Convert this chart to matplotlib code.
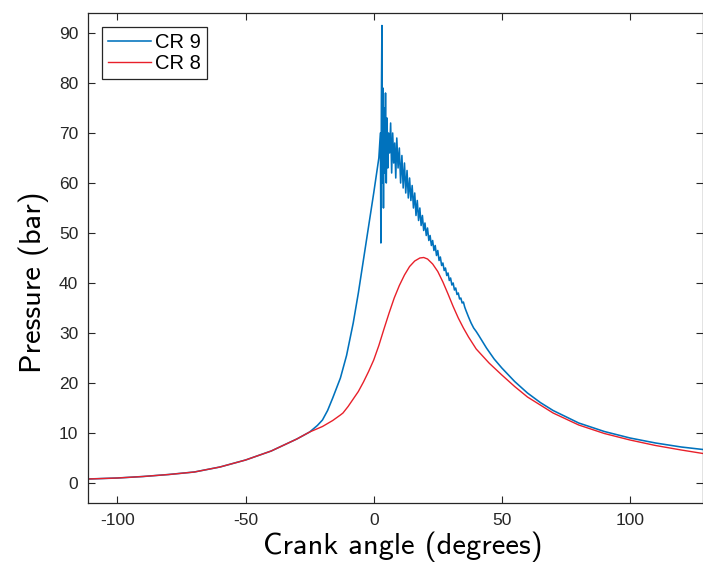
import matplotlib
matplotlib.use("Agg")
import matplotlib.pyplot as plt

# crank angle (deg) / pressure (bar)
cr9_angle = [-111.5, -100, -90, -80, -70, -60, -50, -40, -30, -25, -22, -20, -18, -16,
             -13, -10.6, -8, -6, -3, 0, 2, 2.6,
             2.8, 3.0, 3.2, 3.4, 3.6, 3.8, 4.0, 4.3, 4.6, 4.9, 5.2, 5.5, 5.8, 6.2, 6.6,
             7.0, 7.4, 7.8, 8.2, 8.6, 9.0, 9.5, 10, 10.5, 11, 11.5, 12, 12.5, 13, 13.5,
             14, 14.5, 15, 15.5, 16, 16.5, 17, 17.5, 18, 18.5, 19, 19.5, 20, 20.5, 21,
             21.5, 22, 22.5, 23, 23.5, 24, 24.5, 25, 25.5, 26, 26.5, 27, 27.5, 28, 28.5,
             29, 29.5, 30, 30.5, 31, 31.5, 32, 32.5, 33, 33.5, 34, 34.5, 35, 35.5, 36,
             37, 38, 39, 40,
             41, 44, 47, 50, 55, 60, 65, 70, 80, 90, 100, 110, 120, 128.5]
cr9_pressure = [0.8, 1.0, 1.3, 1.7, 2.2, 3.2, 4.6, 6.4, 8.8, 10.2, 11.5, 12.6, 14.5, 17.0,
                21.0, 25.5, 32.0, 38.0, 48.0, 58.0, 65.0, 70.0,
                48.0, 77.0, 91.5, 60.0, 79.0, 55.0, 75.0, 62.0, 78.0, 60.0, 73.0, 63.0, 70.0, 66.0, 72.0,
                62.0, 70.0, 64.0, 68.0, 61.0, 69.0, 63.0, 67.0, 60.0, 65.5, 59.0, 64.0, 58.0, 62.5, 57.0,
                61.0, 56.5, 59.5, 55.0, 58.0, 53.5, 56.5, 52.5, 55.0, 51.5, 53.5, 50.5, 52.0, 49.5, 51.0,
                48.5, 49.5, 47.5, 48.5, 46.5, 47.5, 45.5, 46.5, 44.5, 45.2, 43.5, 44.0, 42.5, 43.0, 41.5,
                42.0, 40.5, 41.0, 39.6, 40.0, 38.6, 39.0, 37.7, 38.0, 36.8, 37.0, 36.0, 36.2, 35.2, 34.5,
                33.2, 32.0, 31.0, 30.3,
                29.5, 27.0, 24.8, 23.0, 20.3, 18.0, 16.1, 14.5, 12.0, 10.3, 9.0, 8.0, 7.2, 6.7]

cr8_angle = [-111.5, -100, -90, -80, -70, -60, -50, -40, -30, -25, -20, -16, -13, -12, -10,
             -8, -6, -4, -2, 0, 2, 4, 6, 8, 10, 12, 14, 16, 18, 19.5, 21, 23, 25, 27, 29,
             31, 33, 35, 37, 40, 45, 50, 55, 60, 70, 80, 90, 100, 110, 120, 128.5]
cr8_pressure = [0.8, 1.0, 1.3, 1.7, 2.2, 3.2, 4.6, 6.4, 8.8, 10.2, 11.3, 12.5, 13.6, 14.0, 15.3,
                16.8, 18.3, 20.2, 22.3, 24.6, 27.5, 30.8, 34.0, 37.0, 39.5, 41.6, 43.3, 44.4, 45.0, 45.1,
                44.8, 43.8, 42.3, 40.2, 37.8, 35.3, 33.0, 31.0, 29.2, 26.8, 24.0, 21.6, 19.3, 17.2,
                14.0, 11.6, 9.9, 8.6, 7.5, 6.6, 5.9]

x_ticks = [-100, -50, 0, 50, 100]
y_ticks = [0, 10, 20, 30, 40, 50, 60, 70, 80, 90]

plt.rcParams["axes.unicode_minus"] = False
plt.rcParams["font.family"] = ["Liberation Sans", "DejaVu Sans"]

fig = plt.figure(figsize=(7.03, 5.77), dpi=100)
ax = fig.add_axes([88 / 703, 74 / 577, 615 / 703, 490 / 577])

ax.plot(cr9_angle, cr9_pressure, color="#0072BD", lw=1.15, label="CR 9")
ax.plot(cr8_angle, cr8_pressure, color="#E8202A", lw=1.0, label="CR 8")

ax.set_xlim(-111.5, 128.5)
ax.set_ylim(-4, 94)
ax.set_xticks(x_ticks)
ax.set_yticks(y_ticks)

ax.tick_params(direction="in", length=5, width=0.8, top=True, right=True,
               labelsize=12.5, labelcolor="#262626", color="#262626", pad=7)
for sp in ax.spines.values():
    sp.set_color("#262626")
    sp.set_linewidth(0.9)

ax.set_xlabel("Crank angle (degrees)", fontfamily="cmss10", fontsize=22)
ax.set_ylabel("Pressure (bar)", fontfamily="cmss10", fontsize=22)
# label positions as in the reference (not exactly axis-centred)
ax.xaxis.set_label_coords(0.512, -0.058)
ax.yaxis.set_label_coords(-0.063, 0.45)

leg = ax.legend(loc="upper left", bbox_to_anchor=(14 / 615, 1 - 14 / 490),
                borderaxespad=0, fontsize=14.5, handlelength=2.15, handletextpad=0.2,
                labelspacing=0.1, borderpad=0.3, fancybox=False, framealpha=1)
leg.get_frame().set_edgecolor("#262626")
leg.get_frame().set_linewidth(0.9)

fig.savefig("out.png", dpi=100)
